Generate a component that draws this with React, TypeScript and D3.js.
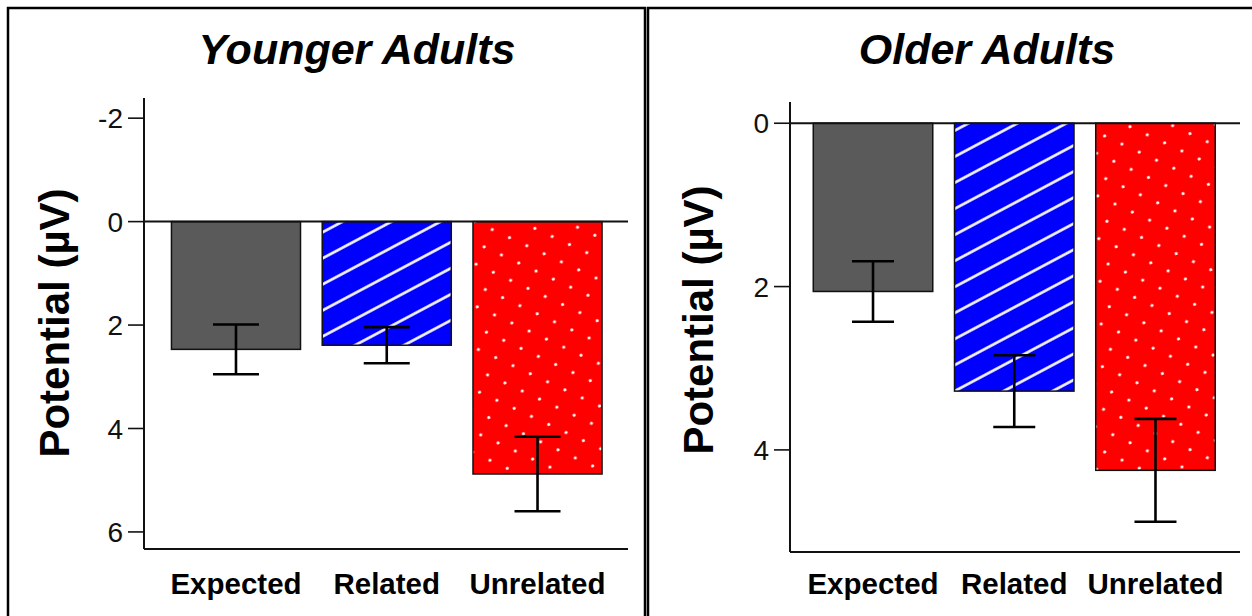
import React from "react";
import * as d3 from "d3";

// Mean ERP potentials (µV) per condition, with error bar half-widths
const conditions = ["Expected", "Related", "Unrelated"];
const youngerMeans = [2.47, 2.39, 4.88];
const youngerErrors = [0.48, 0.35, 0.72];
const olderMeans = [2.06, 3.28, 4.25];
const olderErrors = [0.37, 0.44, 0.63];
const youngerTicks = [-2, 0, 2, 4, 6];
const olderTicks = [0, 2, 4];

const FONT = "'Liberation Sans', Arial, Helvetica, sans-serif";
const fills = ["#5a5a5a", "url(#stripes)", "url(#dots)"];

type PanelProps = {
  title: string;
  titleX: number;
  means: number[];
  errors: number[];
  ticks: number[];
  yDomain: [number, number];
  yRange: [number, number];
  xLeft: number;
  xRight: number;
  bandRange: [number, number];
  padInner: number;
  capWidth: number;
  labelX: number;
  labelY: number;
};

function Panel(p: PanelProps) {
  const y = d3.scaleLinear().domain(p.yDomain).range(p.yRange);
  const x = d3
    .scaleBand<string>()
    .domain(conditions)
    .range(p.bandRange)
    .paddingInner(p.padInner)
    .paddingOuter(p.padInner / 2);
  const bottom = p.yRange[1];
  const y0 = y(0);
  return (
    <g>
      <text
        x={p.titleX}
        y={64}
        textAnchor="middle"
        fontFamily={FONT}
        fontWeight="bold"
        fontStyle="italic"
        fontSize={43}
        fill="#000"
      >
        {p.title}
      </text>
      <text
        transform={`translate(${p.labelX},${p.labelY}) rotate(-90)`}
        textAnchor="middle"
        fontFamily={FONT}
        fontWeight="bold"
        fontSize={42}
        fill="#000"
      >
        Potential (µV)
      </text>
      {conditions.map((c, i) => {
        const m = p.means[i];
        const e = p.errors[i];
        const bx = x(c)!;
        const cx = bx + x.bandwidth() / 2;
        return (
          <g key={c}>
            <rect
              x={bx}
              y={y0}
              width={x.bandwidth()}
              height={y(m) - y0}
              fill={fills[i]}
              stroke="#111"
              strokeWidth={1.5}
            />
            <line x1={cx} x2={cx} y1={y(m - e)} y2={y(m + e)} stroke="#000" strokeWidth={2.6} />
            <line
              x1={cx - p.capWidth / 2}
              x2={cx + p.capWidth / 2}
              y1={y(m - e)}
              y2={y(m - e)}
              stroke="#000"
              strokeWidth={2.6}
            />
            <line
              x1={cx - p.capWidth / 2}
              x2={cx + p.capWidth / 2}
              y1={y(m + e)}
              y2={y(m + e)}
              stroke="#000"
              strokeWidth={2.6}
            />
            <text
              x={cx}
              y={594}
              textAnchor="middle"
              fontFamily={FONT}
              fontWeight="bold"
              fontSize={29.5}
              fill="#000"
            >
              {c}
            </text>
          </g>
        );
      })}
      {/* zero reference line */}
      <line x1={p.xLeft} x2={p.xRight} y1={y0} y2={y0} stroke="#111" strokeWidth={2} />
      {/* axes */}
      <line x1={p.xLeft} x2={p.xLeft} y1={p.yRange[0]} y2={bottom} stroke="#111" strokeWidth={2} />
      <line x1={p.xLeft} x2={p.xRight} y1={bottom} y2={bottom} stroke="#111" strokeWidth={2} />
      {p.ticks.map((t) => (
        <g key={t}>
          <line x1={p.xLeft - 16} x2={p.xLeft} y1={y(t)} y2={y(t)} stroke="#111" strokeWidth={1.6} />
          <text
            x={p.xLeft - 21}
            y={y(t)}
            dy="0.36em"
            textAnchor="end"
            fontFamily={FONT}
            fontSize={28}
            fill="#111"
          >
            {t}
          </text>
        </g>
      ))}
    </g>
  );
}

export default function App() {
  return (
    <svg width={1252} height={616} style={{ position: "absolute", left: 0, top: 0, background: "#fff" }}>
      <defs>
        <pattern
          id="stripes"
          patternUnits="userSpaceOnUse"
          width={12}
          height={23}
          patternTransform="rotate(-28)"
        >
          <rect width={12} height={23} fill="#0000ff" />
          <line x1={0} x2={12} y1={11.5} y2={11.5} stroke="#fff" strokeWidth={2.6} />
        </pattern>
        <pattern
          id="dots"
          patternUnits="userSpaceOnUse"
          width={27}
          height={27}
          patternTransform="rotate(-20)"
        >
          <rect width={27} height={27} fill="#ff0000" />
          <circle cx={6} cy={6} r={1.6} fill="#fff" />
          <circle cx={19.5} cy={19.5} r={1.6} fill="#fff" />
        </pattern>
      </defs>
      <rect x={0} y={0} width={1252} height={616} fill="#fff" />
      {/* panel frames */}
      <path d="M8,620 L8,8 L645,8 L645,620" fill="none" stroke="#000" strokeWidth={2.5} />
      <path d="M648,620 L648,8 L1256,8" fill="none" stroke="#000" strokeWidth={2.5} />
      <Panel
        title="Younger Adults"
        titleX={357}
        means={youngerMeans}
        errors={youngerErrors}
        ticks={youngerTicks}
        yDomain={[-2.39, 6.33]}
        yRange={[98, 549]}
        xLeft={144}
        xRight={628}
        bandRange={[160.6, 612.9]}
        padInner={0.144}
        capWidth={46}
        labelX={69}
        labelY={323}
      />
      <Panel
        title="Older Adults"
        titleX={987}
        means={olderMeans}
        errors={olderErrors}
        ticks={olderTicks}
        yDomain={[-0.26, 5.25]}
        yRange={[102, 552]}
        xLeft={790}
        xRight={1240}
        bandRange={[802.4, 1226.1]}
        padInner={0.154}
        capWidth={42}
        labelX={713}
        labelY={320}
      />
    </svg>
  );
}
